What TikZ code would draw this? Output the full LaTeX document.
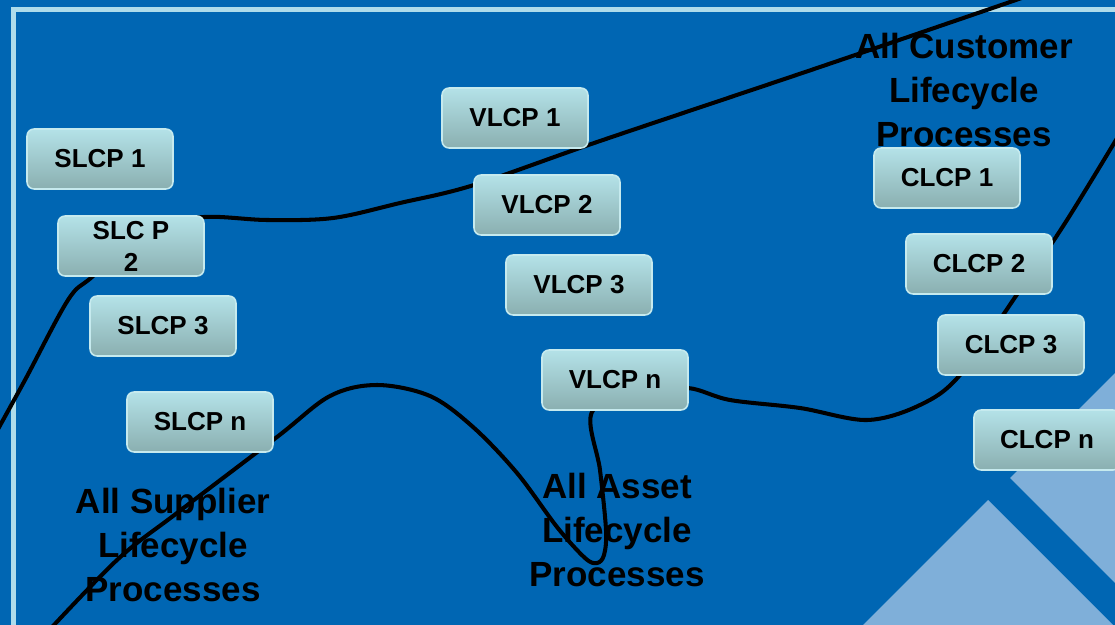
\documentclass[tikz,border=0pt]{standalone}
\usepackage{fontspec}
\setmainfont{Liberation Sans}
\definecolor{deepblue}{HTML}{0066B3}
\definecolor{paleblue}{HTML}{7FAFD9}
\definecolor{frameline}{HTML}{AEDCEB}
\definecolor{boxtop}{HTML}{B4E2E8}
\definecolor{boxbot}{HTML}{8AAFB0}
\definecolor{boxedge}{HTML}{C6EAEE}

\begin{document}
\begin{tikzpicture}[x=0.02cm,y=-0.02cm,
  proc/.style={rounded corners=4pt, top color=boxtop, bottom color=boxbot, draw=boxedge,
    line width=0.9pt, minimum width=2.92cm, minimum height=1.2cm, inner sep=0pt,
    align=center, font=\fontsize{14.8}{18.2}\selectfont\bfseries},
  group/.style={align=center, font=\fontsize{19.9}{25}\selectfont\bfseries},
  rim/.style={frameline, line width=2.8pt},
  boundary/.style={line width=2.3pt, line cap=round, line join=round}]
\useasboundingbox (0,0) rectangle (1115,625);
\clip (0,0) rectangle (1115,625);

% backdrop
\fill[deepblue] (0,0) rectangle (1115,625);
\fill[paleblue] (988,500) -- (863,625) -- (1115,625) -- (1115,627) -- cycle;
\fill[paleblue] (1010,478) -- (1115,373) -- (1115,583) -- cycle;
\draw[rim] (13.5,625) -- (13.5,9.5) -- (1115,9.5);

% boundaries between the process groups
\draw[boundary] plot[smooth, tension=0.55] coordinates {(1045,-10) (820,67) (600,141) (474,185)
  (400,203) (333,218) (267,220) (204,217) (150,228) (92,277) (68,300) (25,380) (-8,440)};
\draw[boundary] plot[smooth, tension=0.55] coordinates {(1125,125) (1067,220) (1020,290)
  (960,375) (920,405) (867,420) (800,408) (730,400) (688,388) (640,392) (592,412) (600,470)
  (606,530) (604,555) (597,563) (585,558) (557,527) (517,473) (473,427) (430,396) (377,385)
  (330,396) (277,437) (177,513) (117,560) (40,640)};

% supplier side
\node[proc] (slcp1) at (100,159) {SLCP 1};
\node[proc] (slcp2) at (131,246) {SLC P\\2};
\node[proc] (slcp3) at (163,326) {SLCP 3};
\node[proc] (slcpn) at (200,422) {SLCP n};

% asset side
\node[proc] (vlcp1) at (515,118) {VLCP 1};
\node[proc] (vlcp2) at (547,205) {VLCP 2};
\node[proc] (vlcp3) at (579,285) {VLCP 3};
\node[proc] (vlcpn) at (615,380) {VLCP n};

% customer side
\node[proc] (clcp1) at (947,178) {CLCP 1};
\node[proc] (clcp2) at (979,264) {CLCP 2};
\node[proc] (clcp3) at (1011,345) {CLCP 3};
\node[proc] (clcpn) at (1047,440) {CLCP n};

\node[group] (customer) at (964,90) {All Customer\\Lifecycle\\Processes};
\node[group] (supplier) at (173,545) {All Supplier\\Lifecycle\\Processes};
\node[group] (asset) at (617,530) {All Asset\\Lifecycle\\Processes};
\end{tikzpicture}
\end{document}
